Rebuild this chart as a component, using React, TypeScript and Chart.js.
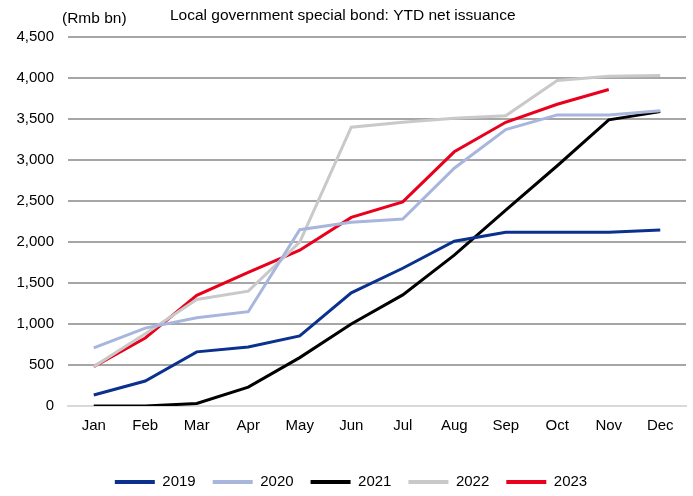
import React, { useEffect, useRef } from "react";
import { Chart, registerables } from "chart.js";

Chart.register(...registerables);

const months = ["Jan", "Feb", "Mar", "Apr", "May", "Jun", "Jul", "Aug", "Sep", "Oct", "Nov", "Dec"];
const s2019 = [134, 305, 660, 720, 855, 1380, 1680, 2010, 2120, 2120, 2120, 2145];
const s2020 = [710, 950, 1075, 1150, 2150, 2240, 2280, 2900, 3370, 3550, 3550, 3600];
const s2021 = [0, 0, 30, 230, 590, 1000, 1355, 1840, 2390, 2930, 3490, 3590];
const s2022 = [480, 880, 1300, 1400, 2000, 3400, 3460, 3510, 3540, 3970, 4020, 4030];
const s2023 = [480, 830, 1350, 1630, 1900, 2300, 2490, 3100, 3460, 3680, 3860];
const titleText = "Local government special bond: YTD net issuance";
const unitText = "(Rmb bn)";

const FONT = "'Liberation Sans', Arial, sans-serif";

export default function App() {
  const ref = useRef<HTMLCanvasElement>(null);
  useEffect(() => {
    document.body.style.margin = "0";
    const textPlugin = {
      id: "texts",
      afterLayout(chart: any) {
        if (chart.legend) {
          chart.legend.left += 6;
          chart.legend.right += 6;
        }
      },
      afterDraw(chart: any) {
        const ctx = chart.ctx;
        ctx.save();
        ctx.fillStyle = "#000";
        ctx.font = `15.5px ${FONT}`;
        ctx.textBaseline = "middle";
        ctx.textAlign = "left";
        ctx.fillText(titleText, 170, 16);
        ctx.fillText(unitText, 62, 19);
        ctx.restore();
      },
    };
    const mk = (label: string, data: number[], color: string) => ({
      label,
      data,
      borderColor: color,
      backgroundColor: color,
      borderWidth: 3,
      pointRadius: 0,
      tension: 0,
      fill: false,
    });
    const chart = new Chart(ref.current!, {
      type: "line",
      data: {
        labels: months,
        datasets: [
          mk("2019", s2019, "#0B318F"),
          mk("2020", s2020, "#A8B6DE"),
          mk("2021", s2021, "#000000"),
          mk("2022", s2022, "#C9C9C9"),
          mk("2023", s2023, "#E8001C"),
        ],
      },
      options: {
        animation: false,
        responsive: false,
        maintainAspectRatio: false,
        layout: { padding: { top: 37, right: 7, left: 4, bottom: 0 } },
        plugins: {
          legend: {
            position: "bottom",
            maxHeight: 38.5,
            labels: {
              boxWidth: 40,
              boxHeight: 4,
              padding: 17,
              color: "#000",
              font: { family: FONT, size: 15 },
              generateLabels: (c: any) =>
                Chart.defaults.plugins.legend.labels
                  .generateLabels(c)
                  .map((l: any) => ({ ...l, lineWidth: 0 })),
            },
          },
          tooltip: { enabled: false },
        },
        scales: {
          x: {
            offset: true,
            grid: { display: false, drawTicks: false },
            border: { display: true, color: "#D9D9D9", width: 2 },
            ticks: { color: "#000", font: { family: FONT, size: 15 }, padding: 11, maxRotation: 0 },
            afterFit: (s: any) => { s.height = 51.5; },
          },
          y: {
            min: 0,
            max: 4500,
            grid: { color: "#A6A6A6", lineWidth: 2, drawTicks: false },
            border: { display: false },
            ticks: {
              stepSize: 500,
              color: "#000",
              font: { family: FONT, size: 15 },
              padding: 14,
              callback: (v: any) => Number(v).toLocaleString("en-US"),
            },
            afterFit: (s: any) => { s.width = 64; },
          },
        },
      },
      plugins: [textPlugin],
    });
    return () => chart.destroy();
  }, []);
  return (
    <div style={{ width: 693, height: 496 }}>
      <canvas ref={ref} width={693} height={496} />
    </div>
  );
}
